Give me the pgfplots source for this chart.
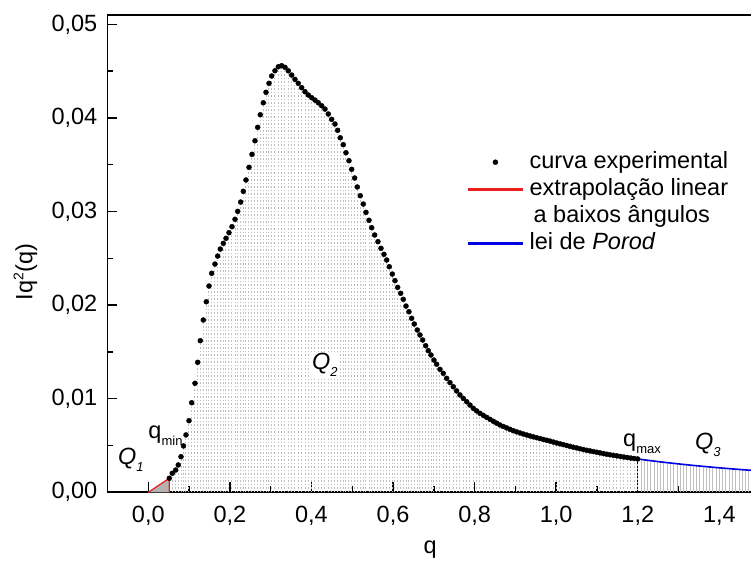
\documentclass[border=0pt]{standalone}
\usepackage{fontspec}
\setmainfont{Liberation Sans}
\usepackage{pgfplots}
\pgfplotsset{compat=1.18}
\usepackage{pgfplotstable}
\definecolor{myred}{RGB}{235,30,30}
\definecolor{myblue}{RGB}{0,0,230}

\pgfplotstableread{
q I
0.0515 0.00150
0.0588 0.00203
0.0672 0.00238
0.0735 0.00292
0.0802 0.00380
0.0863 0.00495
0.0924 0.00613
0.0998 0.00765
0.1064 0.00957
0.1145 0.01165
0.1211 0.01389
0.1275 0.01620
0.1348 0.01841
0.1422 0.02036
0.1488 0.02204
0.1554 0.02340
0.1635 0.02439
0.1701 0.02524
0.1765 0.02599
0.1839 0.02660
0.1905 0.02714
0.1978 0.02774
0.2052 0.02838
0.2126 0.02917
0.2192 0.03002
0.2265 0.03101
0.2329 0.03216
0.2395 0.03337
0.2469 0.03472
0.2542 0.03611
0.2616 0.03756
0.2682 0.03900
0.2746 0.04034
0.2819 0.04162
0.2886 0.04274
0.2959 0.04370
0.3025 0.04448
0.3106 0.04504
0.3187 0.04547
0.3270 0.04558
0.3351 0.04541
0.3432 0.04504
0.3516 0.04458
0.3596 0.04412
0.3677 0.04370
0.3761 0.04323
0.3842 0.04280
0.3923 0.04245
0.4006 0.04216
0.4087 0.04191
0.4168 0.04162
0.4251 0.04130
0.4332 0.04095
0.4413 0.04042
0.4496 0.03985
0.4577 0.03935
0.4643 0.03868
0.4707 0.03788
0.4781 0.03714
0.4847 0.03628
0.4920 0.03543
0.4987 0.03451
0.5060 0.03358
0.5124 0.03262
0.5197 0.03169
0.5271 0.03080
0.5337 0.02991
0.5411 0.02906
0.5477 0.02827
0.5550 0.02749
0.5631 0.02678
0.5705 0.02607
0.5778 0.02543
0.5845 0.02482
0.5908 0.02410
0.5982 0.02332
0.6048 0.02261
0.6114 0.02190
0.6188 0.02126
0.6252 0.02062
0.6318 0.01990
0.6391 0.01929
0.6457 0.01859
0.6521 0.01798
0.6595 0.01734
0.6661 0.01681
0.6727 0.01627
0.6801 0.01566
0.6864 0.01513
0.6931 0.01467
0.7004 0.01413
0.7070 0.01368
0.7151 0.01314
0.7232 0.01271
0.7315 0.01218
0.7396 0.01172
0.7477 0.01128
0.7559 0.01083
0.7641 0.01040
0.7723 0.01003
0.7806 0.00968
0.7887 0.00932
0.7968 0.00897
0.8050 0.00870
0.8132 0.00844
0.8213 0.00822
0.8295 0.00801
0.8377 0.00780
0.8459 0.00759
0.8540 0.00739
0.8622 0.00719
0.8703 0.00703
0.8785 0.00688
0.8867 0.00673
0.8948 0.00658
0.9030 0.00646
0.9112 0.00634
0.9194 0.00623
0.9277 0.00612
0.9358 0.00602
0.9440 0.00592
0.9522 0.00583
0.9603 0.00574
0.9685 0.00565
0.9767 0.00556
0.9848 0.00547
0.9930 0.00537
1.0011 0.00527
1.0093 0.00518
1.0174 0.00509
1.0256 0.00500
1.0337 0.00491
1.0419 0.00482
1.0501 0.00474
1.0582 0.00465
1.0664 0.00457
1.0746 0.00449
1.0828 0.00442
1.0910 0.00435
1.0991 0.00428
1.1073 0.00421
1.1155 0.00414
1.1237 0.00407
1.1319 0.00401
1.1404 0.00395
1.1489 0.00389
1.1574 0.00383
1.1659 0.00377
1.1744 0.00372
1.1829 0.00366
1.1914 0.00361
1.1998 0.00356
}\curve

\pgfplotstableread{
q I
1.200 0.003560
1.208 0.003513
1.216 0.003467
1.224 0.003422
1.232 0.003378
1.240 0.003334
1.248 0.003291
1.256 0.003250
1.264 0.003209
1.272 0.003168
1.280 0.003129
1.288 0.003090
1.296 0.003052
1.304 0.003015
1.312 0.002978
1.320 0.002942
1.328 0.002907
1.336 0.002872
1.344 0.002838
1.352 0.002805
1.360 0.002772
1.368 0.002739
1.376 0.002708
1.384 0.002676
1.392 0.002646
1.400 0.002615
1.408 0.002586
1.416 0.002557
1.424 0.002528
1.432 0.002500
1.440 0.002472
1.448 0.002445
1.456 0.002418
1.464 0.002392
1.472 0.002366
1.480 0.002340
1.488 0.002315
}\porod

\newcommand{\sub}[1]{\raisebox{-7pt}{\fontsize{13}{13}\selectfont #1}}

\begin{document}
\fontsize{23.5}{28}\selectfont
\begin{tikzpicture}
\begin{axis}[
  scale only axis, width=645.5pt, height=477.3pt,
  xmin=-0.1, xmax=1.4825, ymin=0, ymax=0.051,
  xtick={0,0.2,0.4,0.6,0.8,1.0,1.2,1.4},
  minor xtick={-0.1,0.1,0.3,0.5,0.7,0.9,1.1,1.3},
  ytick={0,0.01,0.02,0.03,0.04,0.05},
  minor ytick={0.005,0.015,0.025,0.035,0.045},
  scaled y ticks=false, scaled x ticks=false,
  tick pos=left, tick align=inside,
  major tick length=10pt, minor tick length=6pt,
  tick style={black, line width=1.4pt},
  axis line style={line width=1.8pt},
  /pgf/number format/assume math mode=true,
  every tick label/.append style={inner sep=0pt},
  xticklabel style={yshift=-14pt, /pgf/number format/.cd, fixed, fixed zerofill, precision=1, use comma},
  yticklabel style={xshift=-10pt, /pgf/number format/.cd, fixed, fixed zerofill, precision=2, use comma},
  xlabel={q},
  every axis x label/.style={at={(rel axis cs:0.5,0)}, anchor=base, yshift=-61pt},
  ylabel={Iq\raisebox{9pt}{\fontsize{14}{14}\selectfont 2}(q)},
  every axis y label/.style={at={(rel axis cs:0,0.4616)}, xshift=-82pt, rotate=90, anchor=center},
  legend style={at={(rel axis cs:0.5585,0.7203)}, anchor=north west, draw=none, fill=none,
    inner sep=0pt, row sep=0pt, column sep=0pt,
    nodes={inner xsep=7pt, inner ysep=2.5pt, text height=17pt, text depth=5pt}},
  legend cell align=left,
]
\coordinate (sw) at (rel axis cs:0,0);
\coordinate (ne) at (rel axis cs:1,1);

% Q2 drop lines
\addplot[forget plot, ycomb, no marks, color=black!25, line width=1pt, dash pattern=on 1.3pt off 2.2pt] table {\curve};
% Q3 drop lines
\addplot[forget plot, ycomb, no marks, color=black!25, line width=0.8pt] table {\porod};
% Q1 triangle
\addplot[forget plot, fill=black!30, draw=none] coordinates {(0,0) (0.0515,0.0015) (0.0515,0)} -- cycle;
\addplot[forget plot, draw=myred, line width=1.2pt] coordinates {(0,0) (0.0515,0.0015) (0.0515,0)};
% Porod law
\addplot[forget plot, draw=myblue, line width=1.6pt] table {\porod};
% qmax line
\addplot[forget plot, black, line width=1.2pt, dash pattern=on 2pt off 1.5pt] coordinates {(1.2,0) (1.2,0.00356)};
% experimental curve
\addplot[forget plot, only marks, mark=*, mark size=2.5pt, black] table {\curve};

\node[anchor=base west, inner sep=0pt] at (axis cs:-0.0743,0.00292) {\itshape Q\sub{1}};
\node[anchor=base west, inner sep=0pt] at (axis cs:0.0,0.0058) {q\sub{min}};
\node[anchor=base west, inner sep=2pt, fill=white] at (axis cs:0.3964,0.01307) {\itshape Q\sub{2}};
\node[anchor=base west, inner sep=0pt] at (axis cs:1.1638,0.00484) {q\sub{max}};
\node[anchor=base west, inner sep=0pt] at (axis cs:1.3403,0.00452) {\itshape Q\sub{3}};

\addlegendimage{legend image code/.code={\fill[black] (27pt,0pt) circle (2.5pt);}}
\addlegendentry{curva experimental}
\addlegendimage{legend image code/.code={\fill[myred] (0pt,-0.6pt) rectangle (54pt,0.6pt);}}
\addlegendentry{extrapolação linear}
\addlegendimage{legend image code/.code={}}
\addlegendentry{\hspace{4pt}a baixos ângulos}
\addlegendimage{legend image code/.code={\fill[myblue] (0pt,-0.8pt) rectangle (54pt,0.8pt);}}
\addlegendentry{lei de \textit{Porod}}
\end{axis}
\pgfresetboundingbox
\path[use as bounding box] ([shift={(-107.5pt,-72.7pt)}]sw) rectangle ([shift={(-2pt,15pt)}]ne);
\end{tikzpicture}
\end{document}
